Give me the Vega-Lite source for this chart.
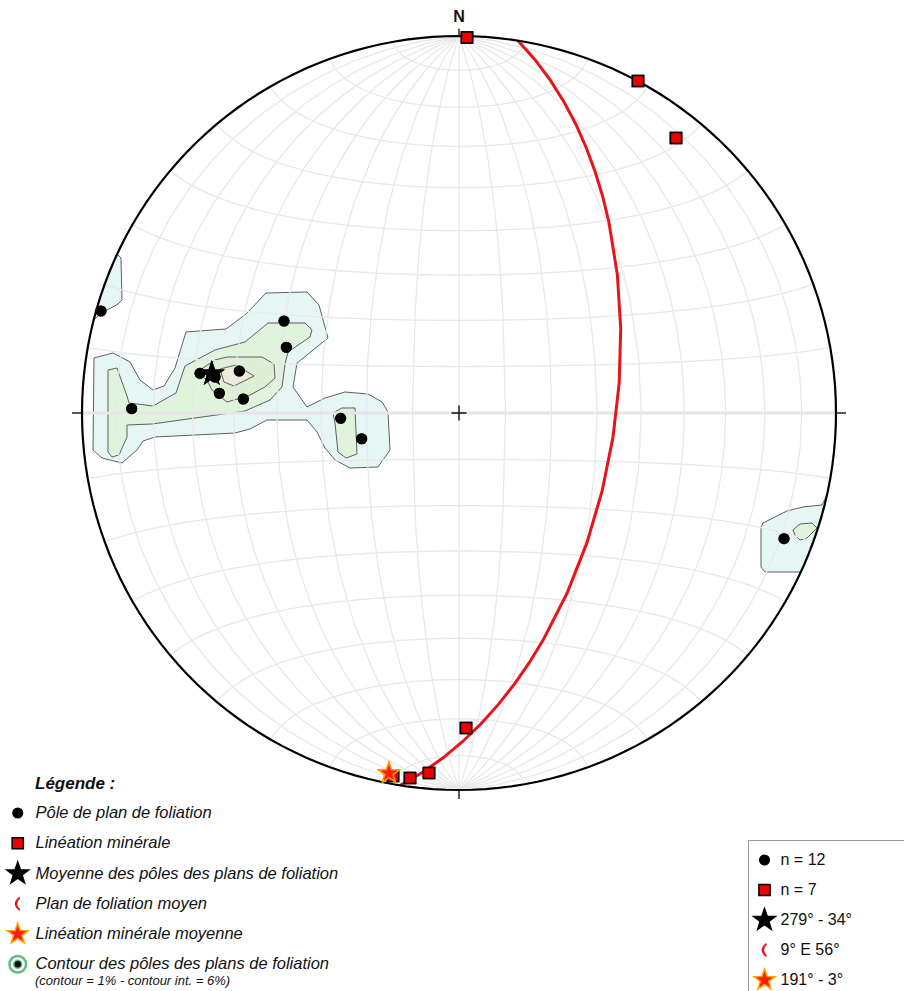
{
  "$schema": "https://vega.github.io/schema/vega-lite/v6.json",
  "width": 904,
  "height": 991,
  "autosize": {"type": "none"},
  "padding": 0,
  "background": "#ffffff",
  "config": {"view": {"stroke": null}, "font": "Liberation Sans"},
  "projection": {"type": "azimuthalEqualArea", "scale": 266.58, "translate": [459, 413], "clipAngle": 90},
  "datasets": {
    "c1": [
      {"p": "m", "i": 0, "X": -0.9682, "Y": 0.1459}, {"p": "m", "i": 1, "X": -0.9178, "Y": 0.1592},
      {"p": "m", "i": 2, "X": -0.8727, "Y": 0.1353}, {"p": "m", "i": 3, "X": -0.8462, "Y": 0.0875},
      {"p": "m", "i": 4, "X": -0.8117, "Y": 0.061}, {"p": "m", "i": 5, "X": -0.7825, "Y": 0.0716},
      {"p": "m", "i": 6, "X": -0.7533, "Y": 0.1194}, {"p": "m", "i": 7, "X": -0.7241, "Y": 0.2149},
      {"p": "m", "i": 8, "X": -0.618, "Y": 0.2228}, {"p": "m", "i": 9, "X": -0.565, "Y": 0.2626},
      {"p": "m", "i": 10, "X": -0.5119, "Y": 0.3183}, {"p": "m", "i": 11, "X": -0.4032, "Y": 0.321},
      {"p": "m", "i": 12, "X": -0.3714, "Y": 0.2865}, {"p": "m", "i": 13, "X": -0.3475, "Y": 0.1989},
      {"p": "m", "i": 14, "X": -0.4297, "Y": 0.1326}, {"p": "m", "i": 15, "X": -0.4403, "Y": 0.069},
      {"p": "m", "i": 16, "X": -0.4032, "Y": 0.0159}, {"p": "m", "i": 17, "X": -0.3554, "Y": 0.0398},
      {"p": "m", "i": 18, "X": -0.3024, "Y": 0.0557}, {"p": "m", "i": 19, "X": -0.2414, "Y": 0.0504},
      {"p": "m", "i": 20, "X": -0.2042, "Y": 0.0292}, {"p": "m", "i": 21, "X": -0.1883, "Y": 0.0027},
      {"p": "m", "i": 22, "X": -0.183, "Y": -0.0981}, {"p": "m", "i": 23, "X": -0.2149, "Y": -0.1432},
      {"p": "m", "i": 24, "X": -0.2891, "Y": -0.1459}, {"p": "m", "i": 25, "X": -0.3289, "Y": -0.1247},
      {"p": "m", "i": 26, "X": -0.3554, "Y": -0.0928}, {"p": "m", "i": 27, "X": -0.3767, "Y": -0.0504},
      {"p": "m", "i": 28, "X": -0.4032, "Y": -0.0186}, {"p": "m", "i": 29, "X": -0.5093, "Y": -0.0186},
      {"p": "m", "i": 30, "X": -0.5544, "Y": -0.0424}, {"p": "m", "i": 31, "X": -0.5942, "Y": -0.0531},
      {"p": "m", "i": 32, "X": -0.8064, "Y": -0.0637}, {"p": "m", "i": 33, "X": -0.8382, "Y": -0.0743},
      {"p": "m", "i": 34, "X": -0.8541, "Y": -0.0981}, {"p": "m", "i": 35, "X": -0.8939, "Y": -0.1326},
      {"p": "m", "i": 36, "X": -0.9469, "Y": -0.1194}, {"p": "m", "i": 37, "X": -0.9708, "Y": -0.0981},
      {"p": "r", "i": 0, "X": 0.9761, "Y": -0.2175}, {"p": "r", "i": 1, "X": 0.9629, "Y": -0.244},
      {"p": "r", "i": 2, "X": 0.9125, "Y": -0.2493}, {"p": "r", "i": 3, "X": 0.87, "Y": -0.2599},
      {"p": "r", "i": 4, "X": 0.8064, "Y": -0.2918}, {"p": "r", "i": 5, "X": 0.8011, "Y": -0.305},
      {"p": "r", "i": 6, "X": 0.8011, "Y": -0.4085}, {"p": "r", "i": 7, "X": 0.8117, "Y": -0.4218},
      {"p": "r", "i": 8, "X": 0.9072, "Y": -0.4218}, {"p": "r", "i": 9, "X": 0.931, "Y": -0.3634},
      {"p": "r", "i": 10, "X": 0.9496, "Y": -0.3103}, {"p": "r", "i": 11, "X": 0.9655, "Y": -0.2573},
      {"p": "l", "i": 0, "X": -0.9072, "Y": 0.4218}, {"p": "l", "i": 1, "X": -0.8966, "Y": 0.4111},
      {"p": "l", "i": 2, "X": -0.8939, "Y": 0.2997}, {"p": "l", "i": 3, "X": -0.9045, "Y": 0.2891},
      {"p": "l", "i": 4, "X": -0.9523, "Y": 0.2626}, {"p": "l", "i": 5, "X": -0.9682, "Y": 0.2467},
      {"p": "l", "i": 6, "X": -0.9549, "Y": 0.2997}, {"p": "l", "i": 7, "X": -0.931, "Y": 0.366}
    ],
    "c2": [
      {"p": "m", "i": 0, "X": -0.931, "Y": 0.1141}, {"p": "m", "i": 1, "X": -0.9072, "Y": 0.1194},
      {"p": "m", "i": 2, "X": -0.8806, "Y": 0.0451}, {"p": "m", "i": 3, "X": -0.8753, "Y": 0.0265},
      {"p": "m", "i": 4, "X": -0.8117, "Y": 0.0186}, {"p": "m", "i": 5, "X": -0.7507, "Y": 0.0531},
      {"p": "m", "i": 6, "X": -0.7268, "Y": 0.1247}, {"p": "m", "i": 7, "X": -0.6472, "Y": 0.1671},
      {"p": "m", "i": 8, "X": -0.5676, "Y": 0.1883}, {"p": "m", "i": 9, "X": -0.5066, "Y": 0.2387},
      {"p": "m", "i": 10, "X": -0.4085, "Y": 0.2387}, {"p": "m", "i": 11, "X": -0.3899, "Y": 0.2202},
      {"p": "m", "i": 12, "X": -0.3952, "Y": 0.2016}, {"p": "m", "i": 13, "X": -0.4536, "Y": 0.1618},
      {"p": "m", "i": 14, "X": -0.4615, "Y": 0.13}, {"p": "m", "i": 15, "X": -0.4695, "Y": 0.069},
      {"p": "m", "i": 16, "X": -0.5013, "Y": 0.0345}, {"p": "m", "i": 17, "X": -0.5676, "Y": 0.0053},
      {"p": "m", "i": 18, "X": -0.8143, "Y": -0.0292}, {"p": "m", "i": 19, "X": -0.8806, "Y": -0.0318},
      {"p": "m", "i": 20, "X": -0.8806, "Y": -0.0637}, {"p": "m", "i": 21, "X": -0.9019, "Y": -0.1114},
      {"p": "m", "i": 22, "X": -0.9204, "Y": -0.1167}, {"p": "m", "i": 23, "X": -0.931, "Y": -0.1034},
      {"p": "b", "i": 0, "X": -0.3342, "Y": 0.0}, {"p": "b", "i": 1, "X": -0.3103, "Y": 0.0133},
      {"p": "b", "i": 2, "X": -0.2759, "Y": 0.0133}, {"p": "b", "i": 3, "X": -0.2706, "Y": -0.1088},
      {"p": "b", "i": 4, "X": -0.2997, "Y": -0.1194}, {"p": "b", "i": 5, "X": -0.321, "Y": -0.1034},
      {"p": "b", "i": 6, "X": -0.3289, "Y": -0.0265},
      {"p": "r", "i": 0, "X": 0.8859, "Y": -0.3103}, {"p": "r", "i": 1, "X": 0.9045, "Y": -0.2944},
      {"p": "r", "i": 2, "X": 0.9363, "Y": -0.2918}, {"p": "r", "i": 3, "X": 0.9496, "Y": -0.305},
      {"p": "r", "i": 4, "X": 0.9231, "Y": -0.3316}, {"p": "r", "i": 5, "X": 0.9045, "Y": -0.3369},
      {"p": "r", "i": 6, "X": 0.8912, "Y": -0.3236}
    ],
    "c3": [
      {"p": "s", "i": 0, "X": -0.695, "Y": 0.1088}, {"p": "s", "i": 1, "X": -0.6472, "Y": 0.1406},
      {"p": "s", "i": 2, "X": -0.6154, "Y": 0.1485}, {"p": "s", "i": 3, "X": -0.5225, "Y": 0.1485},
      {"p": "s", "i": 4, "X": -0.4907, "Y": 0.13}, {"p": "s", "i": 5, "X": -0.4881, "Y": 0.0928},
      {"p": "s", "i": 6, "X": -0.5146, "Y": 0.069}, {"p": "s", "i": 7, "X": -0.5597, "Y": 0.0451},
      {"p": "s", "i": 8, "X": -0.6154, "Y": 0.0292}, {"p": "s", "i": 9, "X": -0.6552, "Y": 0.061},
      {"p": "s", "i": 10, "X": -0.6684, "Y": 0.0875}
    ],
    "c4": [
      {"p": "t", "i": 0, "X": -0.634, "Y": 0.1167}, {"p": "t", "i": 1, "X": -0.5915, "Y": 0.1273},
      {"p": "t", "i": 2, "X": -0.5438, "Y": 0.0981}, {"p": "t", "i": 3, "X": -0.5968, "Y": 0.0716},
      {"p": "t", "i": 4, "X": -0.6233, "Y": 0.0822}
    ],
    "pts": [
      {"X": -0.9496, "Y": 0.2706, "cat": "Pôle de plan de foliation", "cat2": "n = 12"},
      {"X": -0.4642, "Y": 0.244, "cat": "Pôle de plan de foliation", "cat2": "n = 12"},
      {"X": -0.4581, "Y": 0.1743, "cat": "Pôle de plan de foliation", "cat2": "n = 12"},
      {"X": -0.5828, "Y": 0.1114, "cat": "Pôle de plan de foliation", "cat2": "n = 12"},
      {"X": -0.687, "Y": 0.1053, "cat": "Pôle de plan de foliation", "cat2": "n = 12"},
      {"X": -0.6358, "Y": 0.0523, "cat": "Pôle de plan de foliation", "cat2": "n = 12"},
      {"X": -0.5721, "Y": 0.0371, "cat": "Pôle de plan de foliation", "cat2": "n = 12"},
      {"X": -0.8682, "Y": 0.0114, "cat": "Pôle de plan de foliation", "cat2": "n = 12"},
      {"X": -0.3138, "Y": -0.0141, "cat": "Pôle de plan de foliation", "cat2": "n = 12"},
      {"X": -0.2581, "Y": -0.0682, "cat": "Pôle de plan de foliation", "cat2": "n = 12"},
      {"X": 0.8621, "Y": -0.3334, "cat": "Pôle de plan de foliation", "cat2": "n = 12"},
      {"X": -0.6472, "Y": 0.0955, "cat": "Pôle de plan de foliation", "cat2": "n = 12"},
      {"X": 0.0212, "Y": 0.996, "cat": "Linéation minérale", "cat2": "n = 7"},
      {"X": 0.4748, "Y": 0.8806, "cat": "Linéation minérale", "cat2": "n = 7"},
      {"X": 0.5756, "Y": 0.7294, "cat": "Linéation minérale", "cat2": "n = 7"},
      {"X": 0.0186, "Y": -0.8355, "cat": "Linéation minérale", "cat2": "n = 7"},
      {"X": -0.0796, "Y": -0.9549, "cat": "Linéation minérale", "cat2": "n = 7"},
      {"X": -0.13, "Y": -0.9682, "cat": "Linéation minérale", "cat2": "n = 7"},
      {"X": -0.1751, "Y": -0.9629, "cat": "Linéation minérale", "cat2": "n = 7"},
      {"X": -0.6557, "Y": 0.1039, "cat": "Moyenne des pôles des plans de foliation", "cat2": "279° - 34°"},
      {"X": -0.1858, "Y": -0.9556, "cat": "Linéation minérale moyenne", "cat2": "191° - 3°"}
    ]
  },
  "layer": [
    {"data": {"sphere": true}, "mark": {"type": "geoshape", "fill": "#ffffff", "stroke": null}},
    {
      "data": {"name": "c1"},
      "mark": {"type": "line", "interpolate": "linear-closed", "fill": "#e6f6f4", "stroke": "#5f5f5f", "strokeWidth": 1},
      "encoding": {
        "x": {"field": "X", "type": "quantitative", "scale": {"domain": [-1.21751, 1.18037], "nice": false, "zero": false}, "axis": null},
        "y": {"field": "Y", "type": "quantitative", "scale": {"domain": [-1.53316, 1.09549], "nice": false, "zero": false}, "axis": null},
        "detail": {"field": "p", "type": "nominal"},
        "order": {"field": "i", "type": "quantitative"}
      }
    },
    {
      "data": {"name": "c2"},
      "mark": {"type": "line", "interpolate": "linear-closed", "fill": "#e0f3dd", "stroke": "#5f5f5f", "strokeWidth": 1},
      "encoding": {
        "x": {"field": "X", "type": "quantitative", "scale": {"domain": [-1.21751, 1.18037], "nice": false, "zero": false}, "axis": null},
        "y": {"field": "Y", "type": "quantitative", "scale": {"domain": [-1.53316, 1.09549], "nice": false, "zero": false}, "axis": null},
        "detail": {"field": "p", "type": "nominal"},
        "order": {"field": "i", "type": "quantitative"}
      }
    },
    {
      "data": {"name": "c3"},
      "mark": {"type": "line", "interpolate": "linear-closed", "fill": "#ddf0d4", "stroke": "#5f5f5f", "strokeWidth": 1},
      "encoding": {
        "x": {"field": "X", "type": "quantitative", "scale": {"domain": [-1.21751, 1.18037], "nice": false, "zero": false}, "axis": null},
        "y": {"field": "Y", "type": "quantitative", "scale": {"domain": [-1.53316, 1.09549], "nice": false, "zero": false}, "axis": null},
        "detail": {"field": "p", "type": "nominal"},
        "order": {"field": "i", "type": "quantitative"}
      }
    },
    {
      "data": {"name": "c4"},
      "mark": {"type": "line", "interpolate": "linear-closed", "fill": "#eeeadb", "stroke": "#5f5f5f", "strokeWidth": 1},
      "encoding": {
        "x": {"field": "X", "type": "quantitative", "scale": {"domain": [-1.21751, 1.18037], "nice": false, "zero": false}, "axis": null},
        "y": {"field": "Y", "type": "quantitative", "scale": {"domain": [-1.53316, 1.09549], "nice": false, "zero": false}, "axis": null},
        "detail": {"field": "p", "type": "nominal"},
        "order": {"field": "i", "type": "quantitative"}
      }
    },
    {
      "data": {"graticule": {"step": [10, 10], "extentMinor": [[-180, -90], [180, 90]]}},
      "mark": {"type": "geoshape", "filled": false, "stroke": "#e8e8e8", "strokeWidth": 1.3}
    },
    {
      "data": {"values": [{}]},
      "mark": {"type": "rule", "stroke": "#e6e6e6", "strokeWidth": 3},
      "encoding": {
        "x": {"datum": -1, "type": "quantitative", "scale": {"domain": [-1.21751, 1.18037], "nice": false, "zero": false}, "axis": null},
        "x2": {"datum": 1},
        "y": {"datum": 0, "type": "quantitative", "scale": {"domain": [-1.53316, 1.09549], "nice": false, "zero": false}, "axis": null}
      }
    },
    {
      "data": {"values": [{"type": "Feature", "properties": {}, "geometry": {"type": "LineString", "coordinates": [[101.9, 81.96], [33.67, -5.02], [-99.35, -79.77]]}}]},
      "mark": {"type": "geoshape", "filled": false, "stroke": "#e8141b", "strokeWidth": 3}
    },
    {"data": {"sphere": true}, "mark": {"type": "geoshape", "filled": false, "stroke": "#000000", "strokeWidth": 2.2}},
    {
      "data": {"values": [{}]},
      "mark": {"type": "rule", "stroke": "#222222", "strokeWidth": 1.5},
      "encoding": {
        "x": {"datum": -1.0265, "type": "quantitative", "scale": {"domain": [-1.21751, 1.18037], "nice": false, "zero": false}, "axis": null},
        "x2": {"datum": -1},
        "y": {"datum": 0, "type": "quantitative", "scale": {"domain": [-1.53316, 1.09549], "nice": false, "zero": false}, "axis": null}
      }
    },
    {
      "data": {"values": [{}]},
      "mark": {"type": "rule", "stroke": "#222222", "strokeWidth": 1.5},
      "encoding": {
        "x": {"datum": 1, "type": "quantitative", "scale": {"domain": [-1.21751, 1.18037], "nice": false, "zero": false}, "axis": null},
        "x2": {"datum": 1.0265},
        "y": {"datum": 0, "type": "quantitative", "scale": {"domain": [-1.53316, 1.09549], "nice": false, "zero": false}, "axis": null}
      }
    },
    {
      "data": {"values": [{}]},
      "mark": {"type": "rule", "stroke": "#222222", "strokeWidth": 1.5},
      "encoding": {
        "x": {"datum": 0, "type": "quantitative", "scale": {"domain": [-1.21751, 1.18037], "nice": false, "zero": false}, "axis": null},
        "y": {"datum": -1, "type": "quantitative", "scale": {"domain": [-1.53316, 1.09549], "nice": false, "zero": false}, "axis": null},
        "y2": {"datum": -1.0239}
      }
    },
    {
      "data": {"values": [{}]},
      "mark": {"type": "rule", "stroke": "#222222", "strokeWidth": 1.5},
      "encoding": {
        "x": {"datum": 0, "type": "quantitative", "scale": {"domain": [-1.21751, 1.18037], "nice": false, "zero": false}, "axis": null},
        "y": {"datum": 1, "type": "quantitative", "scale": {"domain": [-1.53316, 1.09549], "nice": false, "zero": false}, "axis": null},
        "y2": {"datum": 1.019}
      }
    },
    {
      "data": {"values": [{}]},
      "mark": {"type": "point", "shape": "M-1,0H1M0,-1V1", "size": 225, "filled": false, "stroke": "#111111", "strokeWidth": 1.4, "opacity": 1},
      "encoding": {
        "x": {"datum": 0, "type": "quantitative", "scale": {"domain": [-1.21751, 1.18037], "nice": false, "zero": false}, "axis": null},
        "y": {"datum": 0, "type": "quantitative", "scale": {"domain": [-1.53316, 1.09549], "nice": false, "zero": false}, "axis": null}
      }
    },
    {
      "data": {"values": [{}]},
      "mark": {"type": "text", "text": "N", "fontSize": 16, "fontWeight": "bold", "align": "center", "baseline": "middle", "color": "#111111"},
      "encoding": {
        "x": {"datum": 0, "type": "quantitative", "scale": {"domain": [-1.21751, 1.18037], "nice": false, "zero": false}, "axis": null},
        "y": {"datum": 1.0491, "type": "quantitative", "scale": {"domain": [-1.53316, 1.09549], "nice": false, "zero": false}, "axis": null}
      }
    },
    {
      "data": {"name": "pts"},
      "mark": {"type": "point", "filled": true, "size": 676, "strokeWidth": 1.5, "opacity": 1},
      "encoding": {
        "x": {"field": "X", "type": "quantitative", "scale": {"domain": [-1.21751, 1.18037], "nice": false, "zero": false}, "axis": null},
        "y": {"field": "Y", "type": "quantitative", "scale": {"domain": [-1.53316, 1.09549], "nice": false, "zero": false}, "axis": null},
        "shape": {
          "field": "cat", "type": "nominal",
          "scale": {
            "domain": ["Pôle de plan de foliation", "Linéation minérale", "Moyenne des pôles des plans de foliation", "Plan de foliation moyen", "Linéation minérale moyenne", "Contour des pôles des plans de foliation"],
            "range": [
              "M0.369,0A0.369,0.369,0,1,1,-0.369,0A0.369,0.369,0,1,1,0.369,0ZM0,-1L0,-1M0,1L0,1",
              "M-0.431,-0.431H0.431V0.431H-0.431ZM0,-1L0,-1M0,1L0,1",
              "M0,-0.8846L0.208,-0.2862L0.8414,-0.2734L0.3365,0.1093L0.52,0.7157L0,0.3538L-0.52,0.7157L-0.3365,0.1093L-0.8414,-0.2734L-0.208,-0.2862ZM0,-1L0,-1M0,1L0,1",
              "M0.1154,-0.5385Q-0.5769,0,0.1154,0.5385L0.1923,0.4231Q-0.2692,0,0.1923,-0.4231ZM0,-1L0,-1M0,1L0,1",
              "M0,-0.8462L0.1989,-0.2738L0.8048,-0.2615L0.3219,0.1046L0.4974,0.6845L0,0.3385L-0.4974,0.6845L-0.3219,0.1046L-0.8048,-0.2615L-0.1989,-0.2738ZM0,-1L0,-1M0,1L0,1",
              "M0.677,0A0.677,0.677,0,1,1,-0.677,0A0.677,0.677,0,1,1,0.677,0ZM0.6,0A0.6,0.6,0,1,0,-0.6,0A0.6,0.6,0,1,0,0.6,0ZM0.308,0A0.308,0.308,0,1,1,-0.308,0A0.308,0.308,0,1,1,0.308,0ZM0,-1L0,-1M0,1L0,1"
            ]
          },
          "legend": {
            "orient": "none", "legendX": 35, "legendY": 776, "title": "Légende :",
            "titleFontSize": 17, "titleFontWeight": "bold", "titleFontStyle": "italic", "titleColor": "#111111", "titlePadding": 6,
            "labelFontSize": 16.5, "labelFontStyle": "italic", "labelColor": "#111111", "labelOffset": 3.75, "labelLimit": 600,
            "symbolSize": 676, "symbolStrokeWidth": 1.5, "symbolOffset": -31.25, "rowPadding": -1.75, "padding": 0
          }
        },
        "fill": {
          "field": "cat", "type": "nominal",
          "scale": {
            "domain": ["Pôle de plan de foliation", "Linéation minérale", "Moyenne des pôles des plans de foliation", "Plan de foliation moyen", "Linéation minérale moyenne", "Contour des pôles des plans de foliation"],
            "range": ["#000000", "#ee0000", "#000000", "#e8141b", "#ff1a00", "#111111"]
          }
        },
        "stroke": {
          "field": "cat", "type": "nominal",
          "scale": {
            "domain": ["Pôle de plan de foliation", "Linéation minérale", "Moyenne des pôles des plans de foliation", "Plan de foliation moyen", "Linéation minérale moyenne", "Contour des pôles des plans de foliation"],
            "range": ["#000000", "#000000", "#000000", "transparent", "#ffa000", "#5cbf7f"]
          }
        }
      }
    },
    {
      "data": {"name": "pts"},
      "mark": {"type": "point", "filled": true, "size": 676, "strokeWidth": 1.5, "opacity": 1},
      "encoding": {
        "x": {"field": "X", "type": "quantitative", "scale": {"domain": [-1.21751, 1.18037], "nice": false, "zero": false}, "axis": null},
        "y": {"field": "Y", "type": "quantitative", "scale": {"domain": [-1.53316, 1.09549], "nice": false, "zero": false}, "axis": null},
        "shape": {
          "field": "cat2", "type": "nominal",
          "scale": {
            "domain": ["n = 12", "n = 7", "279° - 34°", "9° E 56°", "191° - 3°"],
            "range": [
              "M0.369,0A0.369,0.369,0,1,1,-0.369,0A0.369,0.369,0,1,1,0.369,0ZM0,-1L0,-1M0,1L0,1M12,0L12,0",
              "M-0.431,-0.431H0.431V0.431H-0.431ZM0,-1L0,-1M0,1L0,1M12,0L12,0",
              "M0,-0.8846L0.208,-0.2862L0.8414,-0.2734L0.3365,0.1093L0.52,0.7157L0,0.3538L-0.52,0.7157L-0.3365,0.1093L-0.8414,-0.2734L-0.208,-0.2862ZM0,-1L0,-1M0,1L0,1M12,0L12,0",
              "M0.1154,-0.5385Q-0.5769,0,0.1154,0.5385L0.1923,0.4231Q-0.2692,0,0.1923,-0.4231ZM0,-1L0,-1M0,1L0,1M12,0L12,0",
              "M0,-0.8462L0.1989,-0.2738L0.8048,-0.2615L0.3219,0.1046L0.4974,0.6845L0,0.3385L-0.4974,0.6845L-0.3219,0.1046L-0.8048,-0.2615L-0.1989,-0.2738ZM0,-1L0,-1M0,1L0,1M12,0L12,0"
            ]
          },
          "legend": {
            "orient": "none", "legendX": 748, "legendY": 840, "title": null,
            "labelFontSize": 16, "labelColor": "#111111", "labelOffset": 2,
            "symbolSize": 676, "symbolStrokeWidth": 1.5, "symbolOffset": -3.5, "rowPadding": -2.25, "padding": 6,
            "strokeColor": "#999999", "fillColor": "#ffffff"
          }
        },
        "fill": {
          "field": "cat2", "type": "nominal",
          "scale": {
            "domain": ["n = 12", "n = 7", "279° - 34°", "9° E 56°", "191° - 3°"],
            "range": ["#000000", "#ee0000", "#000000", "#e8141b", "#ff1a00"]
          }
        },
        "stroke": {
          "field": "cat2", "type": "nominal",
          "scale": {
            "domain": ["n = 12", "n = 7", "279° - 34°", "9° E 56°", "191° - 3°"],
            "range": ["#000000", "#000000", "#000000", "transparent", "#ffa000"]
          }
        }
      }
    },
    {
      "data": {"values": [{}]},
      "mark": {"type": "text", "text": "(contour = 1% - contour int. = 6%)", "fontSize": 13, "fontStyle": "italic", "align": "left", "baseline": "middle", "color": "#111111"},
      "encoding": {
        "x": {"datum": -1.1247, "type": "quantitative", "scale": {"domain": [-1.21751, 1.18037], "nice": false, "zero": false}, "axis": null},
        "y": {"datum": -1.5066, "type": "quantitative", "scale": {"domain": [-1.53316, 1.09549], "nice": false, "zero": false}, "axis": null}
      }
    }
  ],
  "resolve": {"scale": {"shape": "independent", "fill": "independent", "stroke": "independent"}}
}
